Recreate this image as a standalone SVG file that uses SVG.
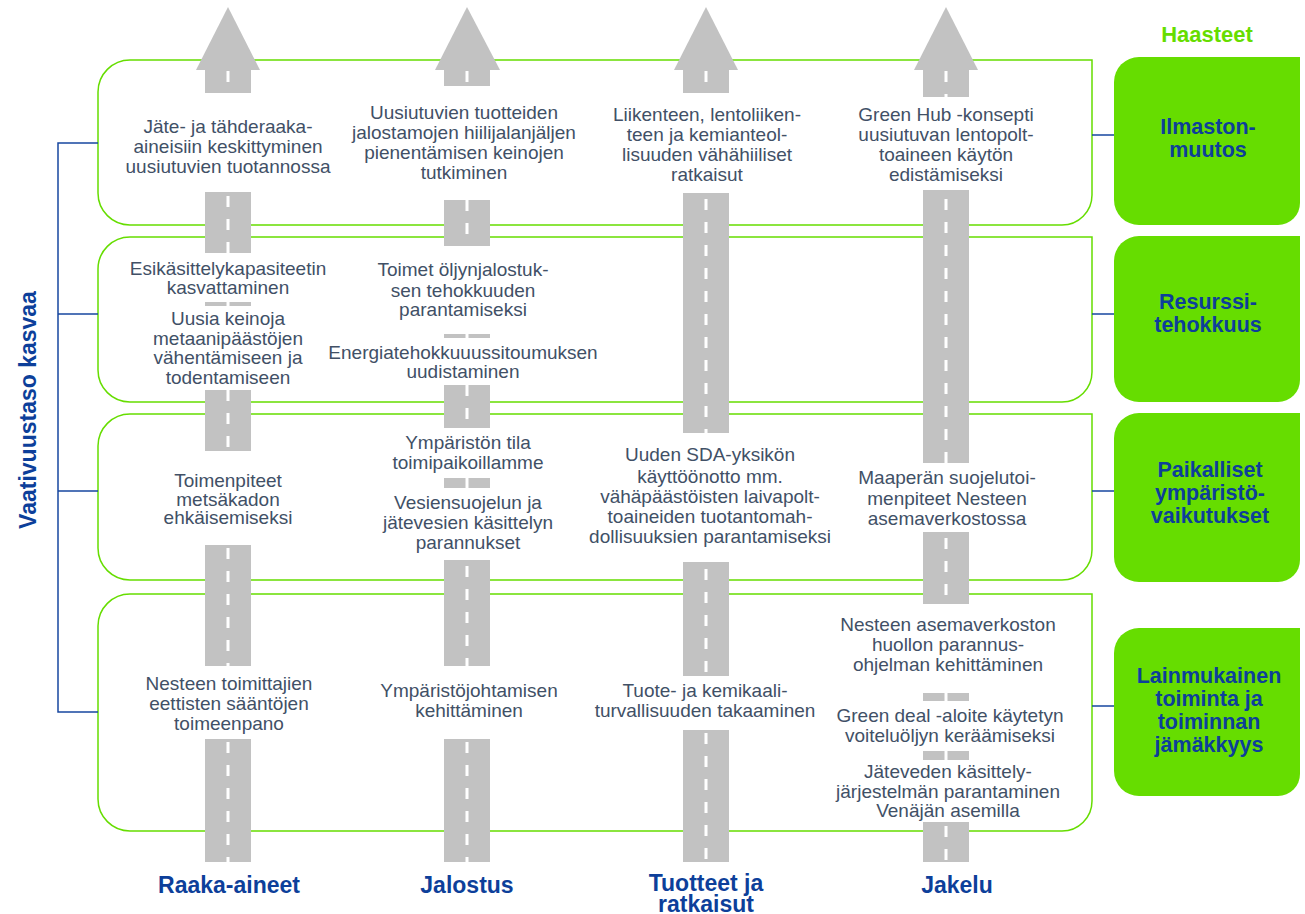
<svg xmlns="http://www.w3.org/2000/svg" width="1305" height="914" viewBox="0 0 1305 914">
<style>
.band{fill:#ffffff;stroke:#66dd00;stroke-width:1.5}
.box{fill:#66dd00}
.road{fill:#c2c2c2}
.dash{stroke:#ffffff;stroke-width:3;stroke-dasharray:11 12}
.blue{stroke:#1747a0;stroke-width:1.5;fill:none}
.t{font-family:"Liberation Sans",Arial,Helvetica,sans-serif;font-size:19px;fill:#415066;text-anchor:middle}
.b{font-family:"Liberation Sans",Arial,Helvetica,sans-serif;font-size:23px;font-weight:bold;fill:#0d3f9a;text-anchor:middle}
.bx{font-family:"Liberation Sans",Arial,Helvetica,sans-serif;font-size:21.5px;font-weight:bold;fill:#0d3f9a;text-anchor:middle}
.h{font-family:"Liberation Sans",Arial,Helvetica,sans-serif;font-size:22px;font-weight:bold;fill:#66dd00;text-anchor:middle}
</style>

<g id="bands">
<path id="band1" class="band" d="M130,60 H1092 V195 A30,30 0 0 1 1062,225 H130 A32,32 0 0 1 98,193 V92 A32,32 0 0 1 130,60 Z"/>
<path id="band2" class="band" d="M130,237 H1092 V372 A30,30 0 0 1 1062,402 H130 A32,32 0 0 1 98,370 V269 A32,32 0 0 1 130,237 Z"/>
<path id="band3" class="band" d="M130,414 H1092 V550 A30,30 0 0 1 1062,580 H130 A32,32 0 0 1 98,548 V446 A32,32 0 0 1 130,414 Z"/>
<path id="band4" class="band" d="M130,594 H1092 V801 A30,30 0 0 1 1062,831 H130 A32,32 0 0 1 98,799 V626 A32,32 0 0 1 130,594 Z"/>
</g>

<g id="connectors">
<path class="blue" d="M98,143 H58 V712 H98 M58,314 H98 M58,491 H98"/>
<path class="blue" d="M1092,135 H1114 M1092,314 H1114 M1092,491 H1114 M1092,706 H1114"/>
</g>

<g id="roads">
<g id="road1">
<polygon class="road" points="196,70 228,7 260,70"/>
<rect class="road" x="205" y="70" width="46" height="23"/>
<rect class="road" x="205" y="192" width="46" height="61"/>
<rect class="road" x="205" y="302" width="46" height="4"/>
<rect class="road" x="205" y="390" width="46" height="61"/>
<rect class="road" x="205" y="545" width="46" height="121"/>
<rect class="road" x="205" y="739" width="46" height="123"/>
<line class="dash" x1="228" y1="71" x2="228" y2="93"/>
<line class="dash" x1="228" y1="196" x2="228" y2="253"/>
<line class="dash" x1="228" y1="302" x2="228" y2="306"/>
<line class="dash" x1="228" y1="390" x2="228" y2="451"/>
<line class="dash" x1="228" y1="548" x2="228" y2="666"/>
<line class="dash" x1="228" y1="742" x2="228" y2="862"/>
</g>
<g id="road2">
<polygon class="road" points="435,70 467,7 500,70"/>
<rect class="road" x="444" y="70" width="46" height="16"/>
<rect class="road" x="444" y="200" width="46" height="46"/>
<rect class="road" x="444" y="334" width="46" height="4"/>
<rect class="road" x="444" y="385" width="46" height="43"/>
<rect class="road" x="444" y="478" width="46" height="10"/>
<rect class="road" x="444" y="560" width="46" height="106"/>
<rect class="road" x="444" y="739" width="46" height="123"/>
<line class="dash" x1="467" y1="71" x2="467" y2="86"/>
<line class="dash" x1="467" y1="200" x2="467" y2="246"/>
<line class="dash" x1="467" y1="334" x2="467" y2="338"/>
<line class="dash" x1="467" y1="385" x2="467" y2="428"/>
<line class="dash" x1="467" y1="478" x2="467" y2="488"/>
<line class="dash" x1="467" y1="566" x2="467" y2="666"/>
<line class="dash" x1="467" y1="742" x2="467" y2="862"/>
</g>
<g id="road3">
<polygon class="road" points="674,70 706,7 738,70"/>
<rect class="road" x="683" y="70" width="46" height="23"/>
<rect class="road" x="683" y="193" width="46" height="240"/>
<rect class="road" x="683" y="562" width="46" height="114"/>
<rect class="road" x="683" y="730" width="46" height="132"/>
<line class="dash" x1="706" y1="71" x2="706" y2="93"/>
<line class="dash" x1="706" y1="199" x2="706" y2="433"/>
<line class="dash" x1="706" y1="569" x2="706" y2="676"/>
<line class="dash" x1="706" y1="733" x2="706" y2="862"/>
</g>
<g id="road4">
<polygon class="road" points="914,70 946,7 978,70"/>
<rect class="road" x="923" y="70" width="46" height="27"/>
<rect class="road" x="923" y="190" width="46" height="273"/>
<rect class="road" x="923" y="532" width="46" height="72"/>
<rect class="road" x="923" y="693" width="46" height="8"/>
<rect class="road" x="923" y="751" width="46" height="9"/>
<rect class="road" x="923" y="822" width="46" height="40"/>
<line class="dash" x1="946" y1="71" x2="946" y2="97"/>
<line class="dash" x1="946" y1="199" x2="946" y2="463"/>
<line class="dash" x1="946" y1="538" x2="946" y2="604"/>
<line class="dash" x1="946" y1="693" x2="946" y2="701"/>
<line class="dash" x1="946" y1="751" x2="946" y2="760"/>
<line class="dash" x1="946" y1="826" x2="946" y2="862"/>
</g>
</g>

<g id="challenges">
<text class="h" x="1207" y="42">Haasteet</text>
<g id="box1">
<path class="box" d="M1139,57 H1300 V203 A22,22 0 0 1 1278,225 H1139 A25,25 0 0 1 1114,200 V82 A25,25 0 0 1 1139,57 Z"/>
<text class="bx" x="1208" y="134">Ilmaston-</text>
<text class="bx" x="1208" y="157">muutos</text>
</g>
<g id="box2">
<path class="box" d="M1139,236 H1300 V380 A22,22 0 0 1 1278,402 H1139 A25,25 0 0 1 1114,377 V261 A25,25 0 0 1 1139,236 Z"/>
<text class="bx" x="1208" y="309">Resurssi-</text>
<text class="bx" x="1208" y="332">tehokkuus</text>
</g>
<g id="box3">
<path class="box" d="M1139,413 H1300 V560 A22,22 0 0 1 1278,582 H1139 A25,25 0 0 1 1114,557 V438 A25,25 0 0 1 1139,413 Z"/>
<text class="bx" x="1210" y="477">Paikalliset</text>
<text class="bx" x="1210" y="500">ympäristö-</text>
<text class="bx" x="1210" y="523">vaikutukset</text>
</g>
<g id="box4">
<path class="box" d="M1139,628 H1300 V774 A22,22 0 0 1 1278,796 H1139 A25,25 0 0 1 1114,771 V653 A25,25 0 0 1 1139,628 Z"/>
<text class="bx" x="1209" y="683">Lainmukainen</text>
<text class="bx" x="1209" y="706">toiminta ja</text>
<text class="bx" x="1209" y="729">toiminnan</text>
<text class="bx" x="1209" y="752">jämäkkyys</text>
</g>
</g>

<g id="axis">
<text class="b" transform="translate(36,410) rotate(-90)">Vaativuustaso kasvaa</text>
</g>

<g id="items">
<g id="i11"><text class="t" x="228" y="133">Jäte- ja tähderaaka-</text><text class="t" x="228" y="153">aineisiin keskittyminen</text><text class="t" x="228" y="173">uusiutuvien tuotannossa</text></g>
<g id="i12"><text class="t" x="464" y="119">Uusiutuvien tuotteiden</text><text class="t" x="464" y="139">jalostamojen hiilijalanjäljen</text><text class="t" x="464" y="159">pienentämisen keinojen</text><text class="t" x="464" y="179">tutkiminen</text></g>
<g id="i13"><text class="t" x="707" y="121">Liikenteen, lentoliiken-</text><text class="t" x="707" y="141">teen ja kemianteol-</text><text class="t" x="707" y="161">lisuuden vähähiiliset</text><text class="t" x="707" y="181">ratkaisut</text></g>
<g id="i14"><text class="t" x="946" y="121">Green Hub -konsepti</text><text class="t" x="946" y="141">uusiutuvan lentopolt-</text><text class="t" x="946" y="161">toaineen käytön</text><text class="t" x="946" y="181">edistämiseksi</text></g>

<g id="i21a"><text class="t" x="228" y="275">Esikäsittelykapasiteetin</text><text class="t" x="228" y="294">kasvattaminen</text></g>
<g id="i21b"><text class="t" x="228" y="325">Uusia keinoja</text><text class="t" x="228" y="345">metaanipäästöjen</text><text class="t" x="228" y="364">vähentämiseen ja</text><text class="t" x="228" y="384">todentamiseen</text></g>
<g id="i22a"><text class="t" x="463" y="276">Toimet öljynjalostuk-</text><text class="t" x="463" y="297">sen tehokkuuden</text><text class="t" x="463" y="316">parantamiseksi</text></g>
<g id="i22b"><text class="t" x="463" y="359">Energiatehokkuuussitoumuksen</text><text class="t" x="463" y="378">uudistaminen</text></g>

<g id="i31"><text class="t" x="228" y="487">Toimenpiteet</text><text class="t" x="228" y="505.5">metsäkadon</text><text class="t" x="228" y="524">ehkäisemiseksi</text></g>
<g id="i32a"><text class="t" x="468" y="449">Ympäristön tila</text><text class="t" x="468" y="469">toimipaikoillamme</text></g>
<g id="i32b"><text class="t" x="468" y="509">Vesiensuojelun ja</text><text class="t" x="468" y="529">jätevesien käsittelyn</text><text class="t" x="468" y="549">parannukset</text></g>
<g id="i33"><text class="t" x="710" y="461">Uuden SDA-yksikön</text><text class="t" x="710" y="483">käyttöönotto mm.</text><text class="t" x="710" y="503">vähäpäästöisten laivapolt-</text><text class="t" x="710" y="523">toaineiden tuotantomah-</text><text class="t" x="710" y="543">dollisuuksien parantamiseksi</text></g>
<g id="i34"><text class="t" x="947" y="484">Maaperän suojelutoi-</text><text class="t" x="947" y="505">menpiteet Nesteen</text><text class="t" x="947" y="525">asemaverkostossa</text></g>

<g id="i41"><text class="t" x="229" y="690">Nesteen toimittajien</text><text class="t" x="229" y="710">eettisten sääntöjen</text><text class="t" x="229" y="730">toimeenpano</text></g>
<g id="i42"><text class="t" x="469" y="697">Ympäristöjohtamisen</text><text class="t" x="469" y="717">kehittäminen</text></g>
<g id="i43"><text class="t" x="705" y="697">Tuote- ja kemikaali-</text><text class="t" x="705" y="717">turvallisuuden takaaminen</text></g>
<g id="i44a"><text class="t" x="948" y="631">Nesteen asemaverkoston</text><text class="t" x="948" y="651">huollon parannus-</text><text class="t" x="948" y="671">ohjelman kehittäminen</text></g>
<g id="i44b"><text class="t" x="950" y="722">Green deal -aloite käytetyn</text><text class="t" x="950" y="742">voiteluöljyn keräämiseksi</text></g>
<g id="i44c"><text class="t" x="948" y="778">Jäteveden käsittely-</text><text class="t" x="948" y="798">järjestelmän parantaminen</text><text class="t" x="948" y="817">Venäjän asemilla</text></g>
</g>

<g id="columns">
<text class="b" x="229" y="893">Raaka-aineet</text>
<text class="b" x="467" y="893">Jalostus</text>
<text class="b" x="706" y="891">Tuotteet ja</text>
<text class="b" x="706" y="912">ratkaisut</text>
<text class="b" x="957" y="893">Jakelu</text>
</g>
</svg>
